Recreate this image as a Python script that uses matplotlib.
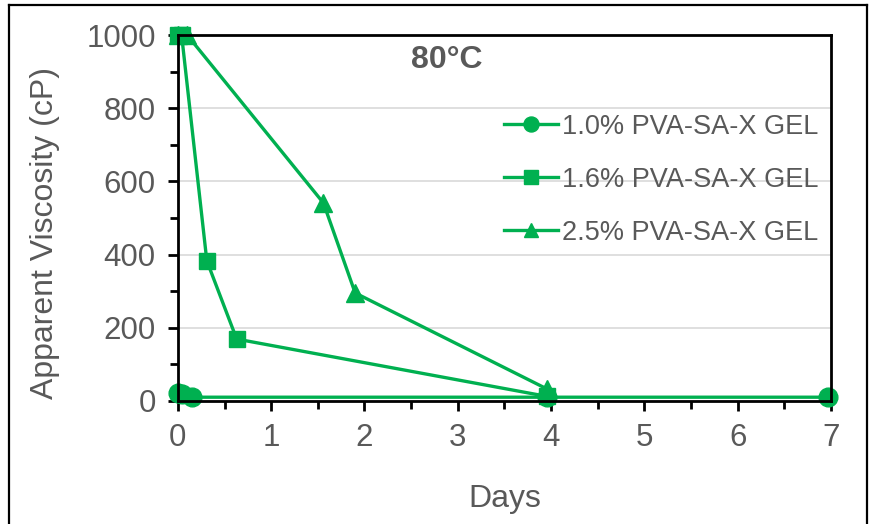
import matplotlib.pyplot as plt
from matplotlib.ticker import MultipleLocator
from matplotlib.lines import Line2D

# data
days_10 = [0, 0.04, 0.15, 3.96, 6.97]
visc_10 = [22, 18, 10, 10, 10]

days_16 = [0, 0.04, 0.31, 0.63, 3.96]
visc_16 = [1000, 1000, 383, 169, 12]

days_25 = [0, 0.1, 1.56, 1.9, 3.96]
visc_25 = [1000, 1000, 541, 295, 32]

labels = ["1.0% PVA-SA-X GEL", "1.6% PVA-SA-X GEL", "2.5% PVA-SA-X GEL"]

green = "#00B050"
grey = "#595959"
plt.rcParams['font.family'] = ['Liberation Sans', 'DejaVu Sans']

fig = plt.figure(figsize=(8.72, 5.24), dpi=100)
ax = fig.add_axes([0.204, 0.235, 0.749, 0.698])

ax.plot(days_10, visc_10, color=green, lw=2.4, marker="o", ms=13.5, label=labels[0], clip_on=False)
ax.plot(days_16, visc_16, color=green, lw=2.4, marker="s", ms=12, label=labels[1], clip_on=False)
ax.plot(days_25, visc_25, color=green, lw=2.4, marker="^", ms=12.5, label=labels[2], clip_on=False)

ax.set_xlim(0, 7)
ax.set_ylim(0, 1000)
ax.xaxis.set_major_locator(MultipleLocator(1))
ax.xaxis.set_minor_locator(MultipleLocator(0.5))
ax.yaxis.set_major_locator(MultipleLocator(200))
ax.yaxis.set_minor_locator(MultipleLocator(100))
ax.tick_params(which="both", direction="out", width=2, colors="black",
               labelcolor=grey, labelsize=22.5)
ax.tick_params(which="major", length=7, pad=9)
ax.tick_params(which="minor", length=6)
ax.grid(axis="y", which="major", color="#D9D9D9", lw=1.2)
ax.set_axisbelow(True)
for s in ax.spines.values():
    s.set_linewidth(2)
    s.set_color("black")

ax.set_xlabel("Days", fontsize=23, color=grey, labelpad=22)
ax.set_ylabel("Apparent Viscosity (cP)", fontsize=23, color=grey)
ax.yaxis.set_label_coords(-0.181, 0.46)
ax.text(0.412, 0.933, "80°C", transform=ax.transAxes, ha="center", va="center",
        fontsize=23, fontweight="bold", color=grey)

ax.legend(loc="upper right", bbox_to_anchor=(1.006, 0.83), frameon=False,
          fontsize=19.5, labelcolor=grey, handlelength=2.0, handletextpad=0.15,
          labelspacing=1.0, borderaxespad=0.2, markerscale=0.8)

# outer chart frame
fig.add_artist(Line2D([0.010, 0.010], [0, 0.991], color="black", lw=1.6))
fig.add_artist(Line2D([0.010, 0.994], [0.991, 0.991], color="black", lw=1.6))
fig.add_artist(Line2D([0.994, 0.994], [0, 0.991], color="black", lw=1.6))

fig.savefig("out.png", dpi=100)
